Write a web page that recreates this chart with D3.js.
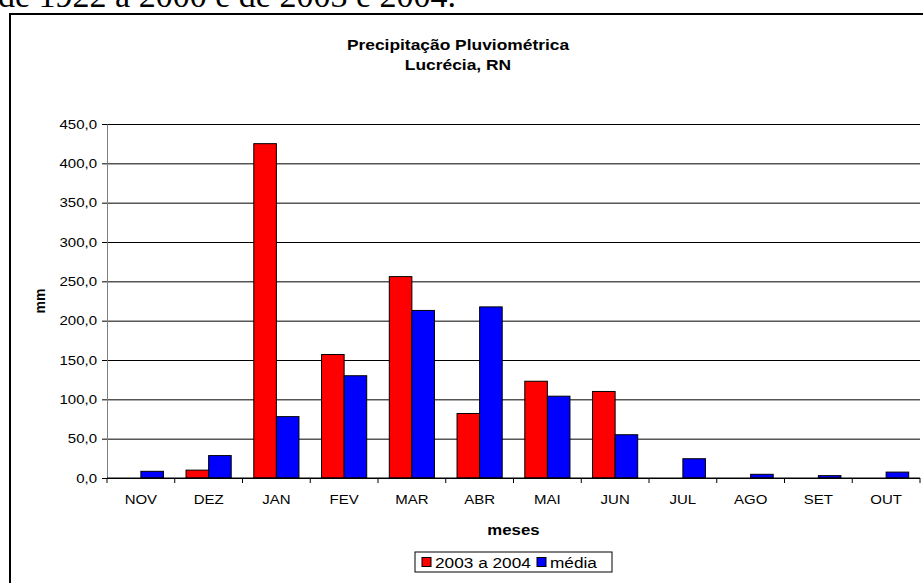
<!DOCTYPE html>
<html>
<head>
<meta charset="utf-8">
<script src="https://cdn.jsdelivr.net/npm/d3@7"></script>
<style>
  body { margin: 0; background: #fff; }
  svg text { font-family: "Liberation Sans", Arial, sans-serif; }
</style>
</head>
<body>
<div id="chart"></div>
<script>
// monthly rainfall, Lucrécia RN
var meses = ['NOV', 'DEZ', 'JAN', 'FEV', 'MAR', 'ABR', 'MAI', 'JUN', 'JUL', 'AGO', 'SET', 'OUT'];
var chuva2003 = [0, 10, 425, 157, 256, 82, 123, 110, 0, 0, 0, 0];
var media = [8.5, 28.5, 78, 130, 213, 217.5, 104, 55, 24.5, 4.7, 3, 7.5];
var yTicks = [0, 50, 100, 150, 200, 250, 300, 350, 400, 450];
var seriesNames = ['2003 a 2004', 'média'];
var colors = ['#ff0000', '#0000ff'];

var outerWidth = 923, outerHeight = 583;
var margin = {top: 124, right: 3, bottom: 105, left: 107};
var width = outerWidth - margin.left - margin.right;
var height = outerHeight - margin.top - margin.bottom;
var sx = 1.2; // chart image is stretched horizontally

var svg = d3.select('#chart').append('svg')
  .attr('width', outerWidth)
  .attr('height', outerHeight);

// caption cut off at the top of the page
svg.append('text')
  .attr('x', 456).attr('y', 7)
  .attr('text-anchor', 'end')
  .style('font-family', '"Liberation Serif", "Times New Roman", serif')
  .style('font-size', '34px')
  .text('de 1922 a 2000 e de 2003 e 2004.');

// chart frame
svg.append('rect')
  .attr('x', 10).attr('y', 14)
  .attr('width', 940).attr('height', 600)
  .attr('fill', 'none')
  .attr('stroke', '#000')
  .attr('stroke-width', 2);

function stretchText(sel, x, y, size, weight, anchor, str) {
  return sel.append('text')
    .attr('transform', 'translate(' + x + ',' + y + ') scale(' + sx + ',1)')
    .attr('text-anchor', anchor)
    .style('font-size', size + 'px')
    .style('font-weight', weight)
    .text(str);
}

stretchText(svg, 458, 50, 14.5, 'bold', 'middle', 'Precipitação Pluviométrica');
stretchText(svg, 458, 70, 14.5, 'bold', 'middle', 'Lucrécia, RN');

var g = svg.append('g')
  .attr('transform', 'translate(' + margin.left + ',' + margin.top + ')');

var x = d3.scaleBand().domain(meses).range([0, width]);
var x1 = d3.scaleBand().domain(seriesNames).range([x.bandwidth() / 6, x.bandwidth() * 5 / 6]);
var y = d3.scaleLinear().domain([0, 450]).range([height, 0]);

// gridlines
g.append('g')
  .call(d3.axisLeft(y).tickValues(yTicks).tickSize(-width).tickFormat(''))
  .call(function(a) {
    a.select('.domain').remove();
    a.selectAll('line').attr('stroke', '#000');
  });

// y axis with labels
var yAx = g.append('g')
  .call(d3.axisLeft(y).tickValues(yTicks).tickSize(5).tickSizeOuter(0).tickPadding(0)
    .tickFormat(function(d) { return d.toFixed(1).replace('.', ','); }));
yAx.select('.domain').attr('stroke', '#808080');
yAx.selectAll('line').attr('stroke', '#000');
yAx.selectAll('text')
  .attr('x', null)
  .attr('transform', 'translate(-10,0) scale(' + sx + ',1)')
  .style('font-size', '12.5px')
  .attr('fill', '#000');

// bars
var rows = meses.map(function(m, i) { return {mes: m, vals: [chuva2003[i], media[i]]}; });
var grp = g.selectAll('.mes').data(rows).enter().append('g')
  .attr('transform', function(d) { return 'translate(' + x(d.mes) + ',0)'; });
grp.selectAll('rect').data(function(d) {
    return d.vals.map(function(v, k) { return {k: k, v: v}; }).filter(function(e) { return e.v > 0; });
  }).enter().append('rect')
  .attr('x', function(d) { return x1(seriesNames[d.k]); })
  .attr('y', function(d) { return y(d.v); })
  .attr('width', x1.bandwidth())
  .attr('height', function(d) { return height - y(d.v); })
  .attr('fill', function(d) { return colors[d.k]; })
  .attr('stroke', '#000')
  .attr('stroke-width', 1);

// x axis line and category boundary ticks
g.append('line')
  .attr('x1', 0).attr('x2', width)
  .attr('y1', height).attr('y2', height)
  .attr('stroke', '#000');
g.selectAll('.bnd').data(meses.concat(['end'])).enter().append('line')
  .attr('x1', function(d, i) { return i < meses.length ? x(d) : width; })
  .attr('x2', function(d, i) { return i < meses.length ? x(d) : width; })
  .attr('y1', height).attr('y2', height + 5)
  .attr('stroke', '#000');

// category labels
meses.forEach(function(m) {
  stretchText(g, x(m) + x.bandwidth() / 2, height + 26, 12.5, 'normal', 'middle', m);
});

// axis titles
stretchText(g, width / 2, height + 57, 14, 'bold', 'middle', 'meses');
svg.append('text')
  .attr('transform', 'translate(45,' + (margin.top + height / 2) + ') rotate(-90)')
  .attr('text-anchor', 'middle')
  .style('font-size', '14px')
  .style('font-weight', 'bold')
  .text('mm');

// legend
var lg = svg.append('g').attr('transform', 'translate(415,552)');
lg.append('rect')
  .attr('width', 197).attr('height', 20)
  .attr('fill', '#fff').attr('stroke', '#000');
var legX = [7, 122];
seriesNames.forEach(function(s, i) {
  lg.append('rect')
    .attr('x', legX[i]).attr('y', 5.5)
    .attr('width', 9).attr('height', 9)
    .attr('fill', colors[i]).attr('stroke', '#000');
  lg.append('text')
    .attr('transform', 'translate(' + (legX[i] + 13) + ',16) scale(1.15,1)')
    .style('font-size', '15px')
    .text(s);
});
</script>
</body>
</html>
